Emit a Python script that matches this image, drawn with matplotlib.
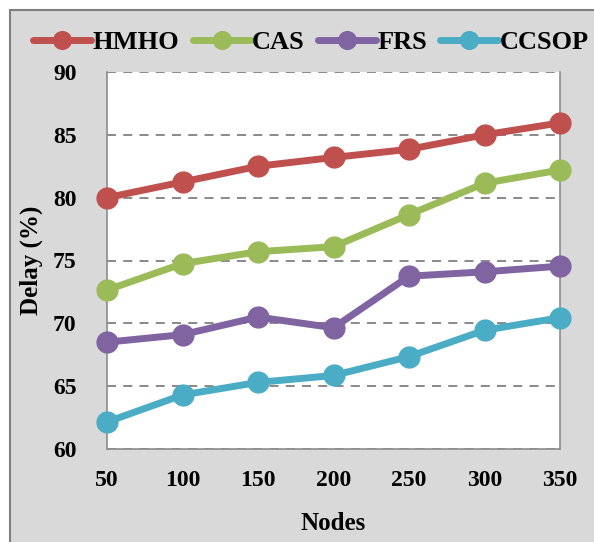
import matplotlib.pyplot as plt
from matplotlib.patches import FancyBboxPatch

nodes = [50, 100, 150, 200, 250, 300, 350]
hmho = [80.0, 81.25, 82.5, 83.2, 83.85, 85.0, 85.95]
cas = [72.65, 74.75, 75.7, 76.1, 78.65, 81.15, 82.2]
frs = [68.5, 69.1, 70.5, 69.65, 73.75, 74.1, 74.55]
ccsop = [62.15, 64.3, 65.3, 65.85, 67.35, 69.45, 70.45]

series = [('HMHO', hmho, '#C0504D'), ('CAS', cas, '#9BBB59'),
          ('FRS', frs, '#8064A2'), ('CCSOP', ccsop, '#4BACC6')]

plt.rcParams['font.family'] = ['Liberation Serif', 'DejaVu Serif']
plt.rcParams['font.weight'] = 'bold'

W, H = 594, 542
fig = plt.figure(figsize=(W / 100, H / 100), dpi=100)
fig.patch.set_facecolor('white')

# gray chart-area box with dark border
box = FancyBboxPatch((10 / W, -0.05), 1.0, 1 - 10 / H + 0.05,
                     boxstyle='square,pad=0', transform=fig.transFigure,
                     facecolor='#D9D9D9', edgecolor='#7F7F7F', linewidth=1.5,
                     zorder=-10)
fig.patches.append(box)

ax = fig.add_axes([107 / W, 1 - 449 / H, (560 - 107) / W, (449 - 72) / H])
ax.set_zorder(1)
ax.set_facecolor('white')

for name, vals, col in series:
    ax.plot(nodes, vals, color=col, linewidth=5, marker='o', markersize=15,
            label=name, solid_capstyle='round', clip_on=False, zorder=3)

ax.set_xlim(50, 350)
ax.set_ylim(60, 90)
ax.set_xticks(nodes)
ax.set_yticks(range(60, 91, 5))
ax.yaxis.grid(True, linestyle=(0, (5, 4)), color='#808080', linewidth=1.3)
ax.set_axisbelow(True)
ax.tick_params(length=0, labelsize=17, colors='black')
ax.tick_params(axis='y', pad=22)
ax.tick_params(axis='x', pad=15)
for lab in ax.get_xticklabels() + ax.get_yticklabels():
    lab.set_fontweight('bold')

for s in ['left', 'right', 'bottom']:
    ax.spines[s].set_color('#8C8C8C')
    ax.spines[s].set_linewidth(1.2)
ax.spines['top'].set_visible(False)

ax.set_xlabel('Nodes', fontsize=18, fontweight='bold', labelpad=15)
ax.set_ylabel('Delay (%)', fontsize=18, fontweight='bold', labelpad=7)

leg = fig.legend(loc='center', bbox_to_anchor=(311 / W, 1 - 42 / H), ncol=4,
                 frameon=False, fontsize=19, handlelength=2.2,
                 handletextpad=0.05, columnspacing=0.5, borderaxespad=0,
                 markerscale=0.85)
for t in leg.get_texts():
    t.set_fontweight('bold')

fig.savefig('out.png', dpi=100)
